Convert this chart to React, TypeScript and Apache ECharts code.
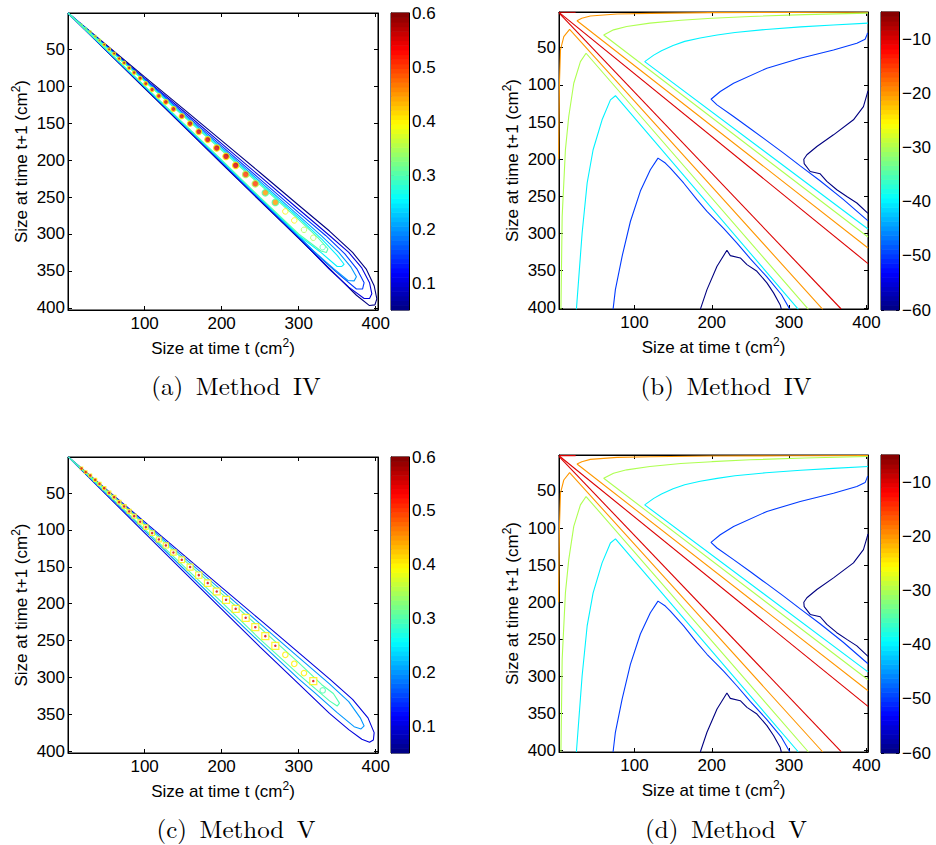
import React, { useEffect, useRef } from 'react';
import * as echarts from 'echarts';

// ---------------- data ----------------
const xTickValues = [100, 200, 300, 400];
const yTickValues = [50, 100, 150, 200, 250, 300, 350, 400];
const cbTicksAC = [0.1, 0.2, 0.3, 0.4, 0.5, 0.6];
const cbTicksBD = [-60, -50, -40, -30, -20, -10];
const cbRangeAC = [0.05, 0.6];
const cbRangeBD = [-60, -5];
const captions = ['(a)\u2002Method\u2002IV', '(b)\u2002Method\u2002IV', '(c)\u2002Method\u2002V', '(d)\u2002Method\u2002V'];
const xAxisTitle = 'Size at time t (cm{sup|2})';
const yAxisTitle = 'Size at time t+1 (cm{sup|2})';

// panel (a): closed contour loops of the growth kernel (outer -> inner)
const aLevels = [0.05, 0.1, 0.15, 0.2, 0.25, 0.3];
const aLoop1 = [[0.5,0.5],[50,43.5],[100,87],[150,130],[200,173.5],[250,217],[300,261],[340,296],[370,325],[388,348],[398,370],[401.5,388],[399,396],[392,397],[375,383],[350,357],[300,306],[250,255.5],[200,204.5],[150,153.5],[100,102.5],[50,51.5],[0.5,0.5]];
const aLoop2 = [[0.5,0.5],[50,44.5],[100,89],[150,133],[200,177.5],[250,222],[300,266.5],[340,302],[365,325],[382,346],[392,366],[395,381],[392,387.5],[385,387.5],[365,372],[340,348],[300,305],[250,254.5],[200,203.5],[150,152.5],[100,101.5],[50,51],[0.5,0.5]];
const aLoop3 = [[0.5,0.5],[50,45.3],[100,90.3],[150,135.5],[200,180.5],[250,226],[300,271],[335,302],[360,327],[376,348],[385,366],[383,374.5],[375,374.5],[355,357],[330,334],[300,304],[250,253.5],[200,202.5],[150,151.8],[100,101],[50,50.6],[0.5,0.5]];
const aLoop4 = [[0.5,0.5],[50,46],[100,91.5],[150,137.5],[200,183],[250,229],[300,275],[330,303],[352,325],[368,345],[375,358],[372,363.5],[364,363],[345,346.5],[320,323.5],[300,303],[250,252.5],[200,201.5],[150,151],[100,100.5],[50,50.3],[0.5,0.5]];
const aLoop5 = [[0.5,0.5],[50,46.5],[100,92.5],[150,139],[200,185],[250,231.5],[300,278],[330,307],[350,329],[359,341],[356,344],[350,344],[330,326],[300,302],[250,251.5],[200,200.5],[150,150.3],[100,99.8],[50,49.9],[0.5,0.5]];
const aLoop6 = [[0.5,0.5],[50,47],[100,93.2],[150,140],[200,186.7],[250,233.5],[300,280.5],[325,305],[338,320],[336,325],[329,323],[300,300],[250,250.5],[200,199.5],[150,149.5],[100,99.3],[50,49.5],[0.5,0.5]];

// peaks along the ridge (shared mesh for panels a and c)
const dotX = [18,23.5,29.4,35.8,41.4,47.5,53.9,60.4,66.9,73.4,79.9,86.4,94.2,101.5,109.7,118.4,127.5,137.4,148.2,159,170.3,181.9,193.6,205.7,218.2,231.2,243.7,256.7,269.7,282.7,294.3,306.9,319,331.2];
const dotY = [16.5,21.5,26,32,37.4,43.3,49.6,55.5,62.3,68.1,74.9,81.3,88.9,96.2,104.3,112.9,121,130.6,140.5,150.4,161.3,172.1,183.5,194.8,207,219.2,231.9,244.1,257.2,269.4,281.6,294.3,305.1,317.8];
const aDotPeak = [0.45,0.45,0.5,0.5,0.5,0.55,0.55,0.55,0.55,0.55,0.55,0.55,0.55,0.55,0.55,0.55,0.55,0.55,0.55,0.55,0.55,0.55,0.55,0.55,0.55,0.5,0.5,0.45,0.45,0.4,0.4,0.35,0.35,0.3];
const cDotPeak = [0.45,0.45,0.5,0.5,0.5,0.55,0.55,0.55,0.55,0.55,0.55,0.55,0.55,0.55,0.55,0.55,0.55,0.55,0.55,0.55,0.55,0.55,0.55,0.55,0.55,0.55,0.55,0.5,0.45,0.4,0.4,0.4,0.45,0.3];

// panel (c) loops
const cLevels = [0.1, 0.2, 0.3];
const cLoop1 = [[0.5,0.5],[50,44.5],[100,89],[150,133.5],[200,178],[250,222],[300,266.5],[340,302],[370,330],[390,355],[398,375],[397,385],[392,388],[382,384],[365,371],[340,349],[300,309],[250,259],[200,207.5],[150,156],[100,104],[50,52],[0.5,0.5]];
const cLoop2 = [[0.5,0.5],[50,45.5],[100,91],[150,136.5],[200,182],[250,227.5],[300,273],[340,309],[365,333],[380,355],[385,366],[381,370],[372,367],[350,348],[320,320],[300,302],[250,253],[200,203],[150,152],[100,101],[50,50.5],[0.5,0.5]];
const cLoop3 = [[0.5,0.5],[50,46.5],[100,92.8],[150,139.5],[200,186.5],[250,233],[300,280],[330,310],[345,322],[353,335],[350,339],[340,332],[300,296],[250,248.5],[200,198],[150,148.5],[100,98.8],[50,49.3],[0.5,0.5]];

// panel (b) log-kernel contour lines
const bRedUpper = [[2.5,2.5],[402,340.4]];
const bRedLower = [[3,4],[367.3,401.5]];
const bRedTop = [[3,2.4],[24,2.4]];
const bOrangeUpper = [[402,2.3],[300,2.6],[198,2.9],[120.6,3.8],[77.6,4.7],[43,7.4],[32,10.5],[25.8,13.7],[402,319.4]];
const bOrangeLower = [[2,200],[2.2,174],[3.1,97.8],[4.4,53],[8.7,35.2],[16.2,25.3],[343.5,402]];
const bGreenUpper = [[402,3.5],[320,5.5],[250,8],[200,10.5],[160,13],[120,17],[90,21.5],[73,26],[60.3,32.9],[402,304.6]];
const bGreenLower = [[5,402],[6.6,277],[10.8,187.3],[15.1,142.6],[21.6,97.8],[30.2,68.7],[37.5,57.5],[325,402]];
const bCyanUpper = [[402,17],[357,19.5],[315,22],[270,25.5],[230,29.5],[207,33],[185,37],[165,41.5],[150,47],[135,54],[125,60],[113.3,68.7],[402,293.9]];
const bCyanLower = [[25,402],[32.4,299.2],[38.9,232],[46.6,187.3],[58.2,147],[69,120.2],[75.5,114.6],[312,402]];
const bBlueUpper = [[401.5,30],[400.5,33],[398.3,38.7],[387.6,44],[357.4,53],[314.4,64.2],[271.3,77.6],[228.2,97.8],[211,109],[199,119.3],[206.8,126.9],[228.2,142.6],[250,159],[271,175],[292.9,191.8],[314.4,209],[340,229],[370,254],[402,283]];
const bBlueLower = [[72.4,402],[75.4,375.4],[84.1,330.6],[94.8,283.8],[107.7,242.9],[120.6,214.2],[130.5,198.5],[140,205.2],[146.5,211.9],[163.6,232],[180.9,254.5],[193.8,270.2],[215.3,293],[232.6,313],[250,334],[271,358],[290,382],[301,402]];
const bNavyUpper = [[402,108],[400.5,113.5],[396.1,129.2],[383.2,147],[357.4,167.2],[335.9,182.9],[323,194],[319,200],[319.5,206],[327.3,216.5],[340.2,219.6],[348.8,229.9],[361.7,241.1],[374.6,250.1],[387.6,258.9],[402,273]];
const bNavyLower = [[185.2,402],[193.8,375.4],[206.8,344.1],[219.6,322.5],[224,329.7],[236.9,332.8],[245.5,341.8],[258.4,350.8],[271.3,366.4],[279.9,379.8],[288.5,396],[290,402]];
const bLineLevels = [-10, -10, -10, -20, -20, -30, -30, -40, -40, -50, -50, -60, -60];

// ---------------- helpers ----------------
const FONT = '"Liberation Sans", Arial, Helvetica, sans-serif';
const SERIF = '"Latin Modern Roman", "CMU Serif", "Liberation Serif", "Times New Roman", serif';

function jet(t: number) {
  const u = Math.min(1, Math.max(0, t));
  const c = (v: number) => Math.round(255 * Math.min(1, Math.max(0, v)));
  return `rgb(${c(1.5 - Math.abs(4 * u - 3))},${c(1.5 - Math.abs(4 * u - 2))},${c(1.5 - Math.abs(4 * u - 1))})`;
}

const plotGrids = [
  { left: 68, top: 13, width: 310, height: 297 },
  { left: 559, top: 12, width: 309, height: 297 },
  { left: 68, top: 457, width: 310, height: 296 },
  { left: 559, top: 455, width: 309, height: 297 },
];
const cbGrids = [
  { left: 391, top: 13, width: 18, height: 297 },
  { left: 881, top: 12, width: 18, height: 298 },
  { left: 391, top: 457, width: 18, height: 296 },
  { left: 881, top: 455, width: 18, height: 298 },
];
const plotRangeX = [[0.5, 403], [2.5, 402], [0.5, 403], [2.5, 402]];
const plotRangeY = [[0.5, 403], [2, 401.5], [1, 402.7], [1.5, 402]];
const captionPos = [[236, 384], [726, 384], [236, 827], [726, 827]];

function buildOption() {
  const grid: any[] = [];
  const xAxis: any[] = [];
  const yAxis: any[] = [];
  const series: any[] = [];
  const nameRich = { sup: { fontSize: 12, verticalAlign: 'top', fontFamily: FONT, color: '#000', lineHeight: 12 } };

  for (let p = 0; p < 4; p++) {
    const pg = plotGrids[p];
    const cg = cbGrids[p];
    grid.push({ ...pg, show: true, borderColor: '#000', borderWidth: 1, backgroundColor: '#fff', containLabel: false });
    grid.push({ ...cg, show: true, borderColor: '#000', borderWidth: 1, backgroundColor: 'transparent', containLabel: false });
    const gPlot = 2 * p;
    const gCb = 2 * p + 1;
    const isLog = p === 1 || p === 3;
    const cbRange = isLog ? cbRangeBD : cbRangeAC;
    const cbTicks = isLog ? cbTicksBD : cbTicksAC;

    const tickStyle = { show: true, inside: true, length: 4, lineStyle: { color: '#000', width: 1 } };
    xAxis.push({
      gridIndex: gPlot, type: 'value', position: 'bottom', min: plotRangeX[p][0], max: plotRangeX[p][1],
      axisLine: { show: true, lineStyle: { color: '#000' } },
      axisTick: { ...tickStyle, customValues: xTickValues },
      axisLabel: { show: true, customValues: xTickValues, color: '#000', fontSize: 17, fontFamily: FONT, margin: 5 },
      splitLine: { show: false },
      name: xAxisTitle, nameLocation: 'middle', nameGap: 27,
      nameTextStyle: { fontSize: 17, color: '#000', fontFamily: FONT, lineHeight: 23, rich: nameRich },
    });
    xAxis.push({
      gridIndex: gPlot, type: 'value', position: 'top', min: plotRangeX[p][0], max: plotRangeX[p][1],
      axisLine: { show: true, lineStyle: { color: '#000' } },
      axisTick: { ...tickStyle, customValues: xTickValues },
      axisLabel: { show: false }, splitLine: { show: false },
    });
    xAxis.push({ gridIndex: gCb, type: 'value', min: 0, max: 1, show: false });

    yAxis.push({
      gridIndex: gPlot, type: 'value', position: 'left', inverse: true, min: plotRangeY[p][0], max: plotRangeY[p][1],
      axisLine: { show: true, lineStyle: { color: '#000' } },
      axisTick: { ...tickStyle, customValues: yTickValues },
      axisLabel: { show: true, customValues: yTickValues, color: '#000', fontSize: 17, fontFamily: FONT, margin: 3 },
      splitLine: { show: false },
      name: yAxisTitle, nameLocation: 'middle', nameGap: 34, nameRotate: 90,
      nameTextStyle: { fontSize: 17, color: '#000', fontFamily: FONT, lineHeight: 23, rich: nameRich },
    });
    yAxis.push({
      gridIndex: gPlot, type: 'value', position: 'right', inverse: true, min: plotRangeY[p][0], max: plotRangeY[p][1],
      axisLine: { show: true, lineStyle: { color: '#000' } },
      axisTick: { ...tickStyle, customValues: yTickValues },
      axisLabel: { show: false }, splitLine: { show: false },
    });
    yAxis.push({
      gridIndex: gCb, type: 'value', position: 'left', min: cbRange[0], max: cbRange[1],
      axisLine: { show: true, lineStyle: { color: '#000' } },
      axisTick: { ...tickStyle, length: 3, customValues: cbTicks },
      axisLabel: { show: false }, splitLine: { show: false },
    });
    yAxis.push({
      gridIndex: gCb, type: 'value', position: 'right', min: cbRange[0], max: cbRange[1],
      axisLine: { show: true, lineStyle: { color: '#000' } },
      axisTick: { ...tickStyle, length: 3, customValues: cbTicks },
      axisLabel: {
        show: true, customValues: cbTicks, color: '#000', fontSize: 17, fontFamily: FONT, margin: 3,
        formatter: (v: number) => (isLog ? String(v).replace('-', '\u2212') : String(Math.round(v * 10) / 10)),
      },
      splitLine: { show: false },
    });

    const xi = 3 * p, yi = 4 * p;
    const nBands = 64;
    const bands: number[][] = [];
    for (let i = 0; i < nBands; i++) {
      const lo = cbRange[0] + ((cbRange[1] - cbRange[0]) * i) / nBands;
      const hi = cbRange[0] + ((cbRange[1] - cbRange[0]) * (i + 1)) / nBands;
      bands.push([0.5, lo, hi, i]);
    }
    series.push({
      type: 'custom', xAxisIndex: 3 * p + 2, yAxisIndex: 4 * p + 2, silent: true, z: 1,
      data: bands,
      encode: { x: 0, y: 1 },
      renderItem: (params: any, api: any) => {
        const lo = api.value(1), hi = api.value(2), i = api.value(3);
        const a = api.coord([0, lo]);
        const b = api.coord([1, hi]);
        return {
          type: 'rect',
          shape: { x: a[0], y: Math.min(a[1], b[1]) - 0.3, width: b[0] - a[0], height: Math.abs(a[1] - b[1]) + 0.6 },
          style: { fill: jet((i + 0.5) / nBands), stroke: null },
        };
      },
    });

    const lvlColor = (lv: number) => jet((lv - cbRange[0]) / (cbRange[1] - cbRange[0]));
    const addLine = (data: number[][], lv: number) => {
      series.push({
        type: 'line', xAxisIndex: xi, yAxisIndex: yi, data, showSymbol: false, symbol: 'none',
        silent: true, z: 3, clip: true, lineStyle: { color: lvlColor(lv), width: 1.1 },
      });
    };

    if (p === 0 || p === 2) {
      const loops = p === 0 ? [aLoop1, aLoop2, aLoop3, aLoop4, aLoop5, aLoop6] : [cLoop1, cLoop2, cLoop3];
      const levels = p === 0 ? aLevels : cLevels;
      loops.forEach((l, k) => addLine(l, levels[k]));
      const peaks = p === 0 ? aDotPeak : cDotPeak;
      const dots = dotX.map((x, k) => {
        const pk = peaks[k];
        const size = Math.min(6.5, 1.5 + x / 40);
        const filled = pk >= 0.45;
        if (p === 0) {
          return {
            value: [x, dotY[k]], symbolSize: filled ? size : size - 1,
            itemStyle: { color: filled ? lvlColor(pk) : '#fff', borderColor: filled ? lvlColor(pk - 0.15) : lvlColor(pk), borderWidth: filled ? 1.2 : 1 },
          };
        }
        return {
          value: [x, dotY[k]], symbolSize: filled ? size + 0.5 : size - 1, symbol: filled ? 'rect' : 'circle',
          itemStyle: { color: '#fff', borderColor: lvlColor(filled ? 0.4 : pk), borderWidth: 1.2 },
        };
      });
      series.push({ type: 'scatter', xAxisIndex: xi, yAxisIndex: yi, data: dots, silent: true, z: 4, symbol: 'circle' });
      if (p === 2) {
        const centers = dotX.map((x, k) => ({
          value: [x, dotY[k]], symbolSize: cDotPeak[k] >= 0.45 ? 2.5 : 0,
          itemStyle: { color: lvlColor(0.55) },
        }));
        series.push({ type: 'scatter', xAxisIndex: xi, yAxisIndex: yi, data: centers, silent: true, z: 5, symbol: 'circle' });
      }
    } else {
      const lines = [bRedUpper, bRedLower, bRedTop, bOrangeUpper, bOrangeLower, bGreenUpper, bGreenLower, bCyanUpper, bCyanLower, bBlueUpper, bBlueLower, bNavyUpper, bNavyLower];
      lines.forEach((l, k) => addLine(l, bLineLevels[k]));
    }
  }

  const graphic = captions.map((t, k) => ({
    type: 'text', x: captionPos[k][0], y: captionPos[k][1],
    style: { text: t, fontSize: 25, fontFamily: SERIF, fill: '#000', textAlign: 'center', textVerticalAlign: 'middle' },
  }));

  return { animation: false, backgroundColor: '#fff', grid, xAxis, yAxis, series, graphic };
}

export default function App() {
  const ref = useRef<HTMLDivElement>(null);
  useEffect(() => {
    if (!ref.current) return;
    const chart = echarts.init(ref.current, undefined, { renderer: 'svg' });
    chart.setOption(buildOption() as any);
    return () => chart.dispose();
  }, []);
  return <div ref={ref} style={{ position: 'absolute', left: 0, top: 0, width: 936, height: 845, background: '#fff' }} />;
}
